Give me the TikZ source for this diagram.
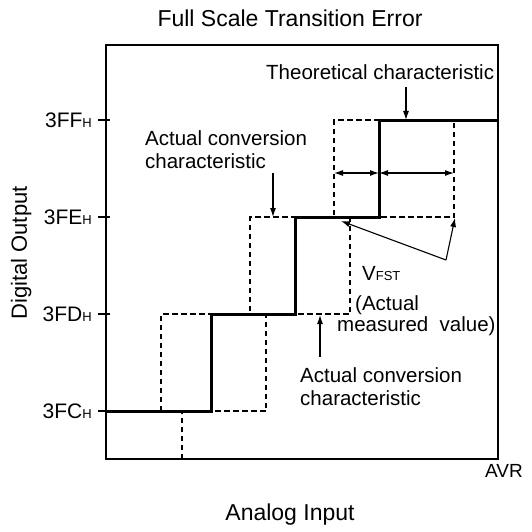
\documentclass[tikz,border=0pt]{standalone}
\usepackage{fontspec}
\setmainfont{Liberation Sans}
\usetikzlibrary{arrows.meta}
\tikzset{
  frame/.style={line width=1.4pt},
  theo/.style={line width=3pt, line join=miter},
  actual/.style={line width=2.3pt, dash pattern=on 5.5pt off 3.5pt},
  pointer/.style={line width=1.1pt, -{Latex[length=9pt,width=6pt]}},
  dimarrow/.style={line width=1.1pt, {Latex[length=9pt,width=6pt]}-{Latex[length=9pt,width=6pt]}},
  lbl/.style={inner sep=0pt, font=\fontsize{20.5}{23}\selectfont},
  biglbl/.style={inner sep=0pt, font=\fontsize{23}{25}\selectfont},
}
\newcommand\hsub{{\fontsize{13}{13}\selectfont H}}
\begin{document}
\begin{tikzpicture}[x=1pt,y=-1pt]
\useasboundingbox (0,0) rectangle (531,532);
% frame
\draw[frame] (106,45) rectangle (498,459);
% ticks
\foreach \yy in {120,217,314,411} {\draw[frame] (98,\yy) -- (110,\yy);}
% tick labels
\node[lbl, font=\fontsize{21}{23}\selectfont, anchor=base east] (t3ff) at (92,127) {3FF\hsub};
\node[lbl, font=\fontsize{21}{23}\selectfont, anchor=base east] (t3fe) at (92,224) {3FE\hsub};
\node[lbl, font=\fontsize{21}{23}\selectfont, anchor=base east] (t3fd) at (92,321) {3FD\hsub};
\node[lbl, font=\fontsize{21}{23}\selectfont, anchor=base east] (t3fc) at (92,418) {3FC\hsub};
% actual characteristics (dashed)
\draw[actual] (161,411) -- (161,314) -- (250,314) -- (250,217) -- (334,217) -- (334,120) -- (379,120);
\draw[actual] (182,459) -- (182,411) -- (266,411) -- (266,314) -- (350,314) -- (350,217) -- (454,217) -- (454,120);
% theoretical characteristic (solid)
\draw[theo] (106,411) -- (211,411) -- (211,314) -- (295,314) -- (295,217) -- (379,217) -- (379,120) -- (498,120);
% dimension arrows
\coordinate (dA) at (334,173);
\coordinate (dB) at (379,173);
\coordinate (dC) at (454,173);
\draw[dimarrow] (dA) -- (dB);
\draw[dimarrow] (dB) -- (dC);
% labels
\node[biglbl, anchor=base] (title) at (290,27) {Full Scale Transition Error};
\node[lbl, anchor=base west] (theo1) at (266,80) {Theoretical characteristic};
\node[lbl, anchor=base west] (act1a) at (145,145) {Actual conversion};
\node[lbl, anchor=base west] (act1b) at (145,168) {characteristic};
\node[lbl, anchor=base west] (act2a) at (300,382) {Actual conversion};
\node[lbl, anchor=base west] (act2b) at (300,405) {characteristic};
\node[lbl, anchor=base west] (vfst) at (362,280) {V{\fontsize{13}{13}\selectfont FST}};
\node[lbl, anchor=base west] (vfst2) at (355,310) {(Actual};
\node[lbl, anchor=base west] (vfst3) at (337,331) {measured\ \ value)};
\node[biglbl, anchor=base] (xlab) at (290,520) {Analog Input};
\node[lbl, font=\fontsize{22}{24}\selectfont, anchor=base, rotate=90] (ylab) at (27,253) {Digital Output};
\node[lbl, font=\fontsize{19}{21}\selectfont, anchor=base west] (avr) at (485,477) {AVR};
% pointers
\coordinate (theoTail) at (406,87);
\coordinate (theoTip) at (406,120);
\draw[pointer] (theoTail) -- (theoTip);
\coordinate (act1Tail) at (273,173);
\coordinate (act1Tip) at (273,217);
\draw[pointer] (act1Tail) -- (act1Tip);
\coordinate (act2Tail) at (320,357);
\coordinate (act2Tip) at (320,315);
\draw[pointer] (act2Tail) -- (act2Tip);
\coordinate (vJ) at (446,260);
\coordinate (vTip1) at (341,221);
\coordinate (vTip2) at (455,218);
\draw[pointer] (vJ) -- (vTip1);
\draw[pointer] (vJ) -- (vTip2);
\end{tikzpicture}
\end{document}
